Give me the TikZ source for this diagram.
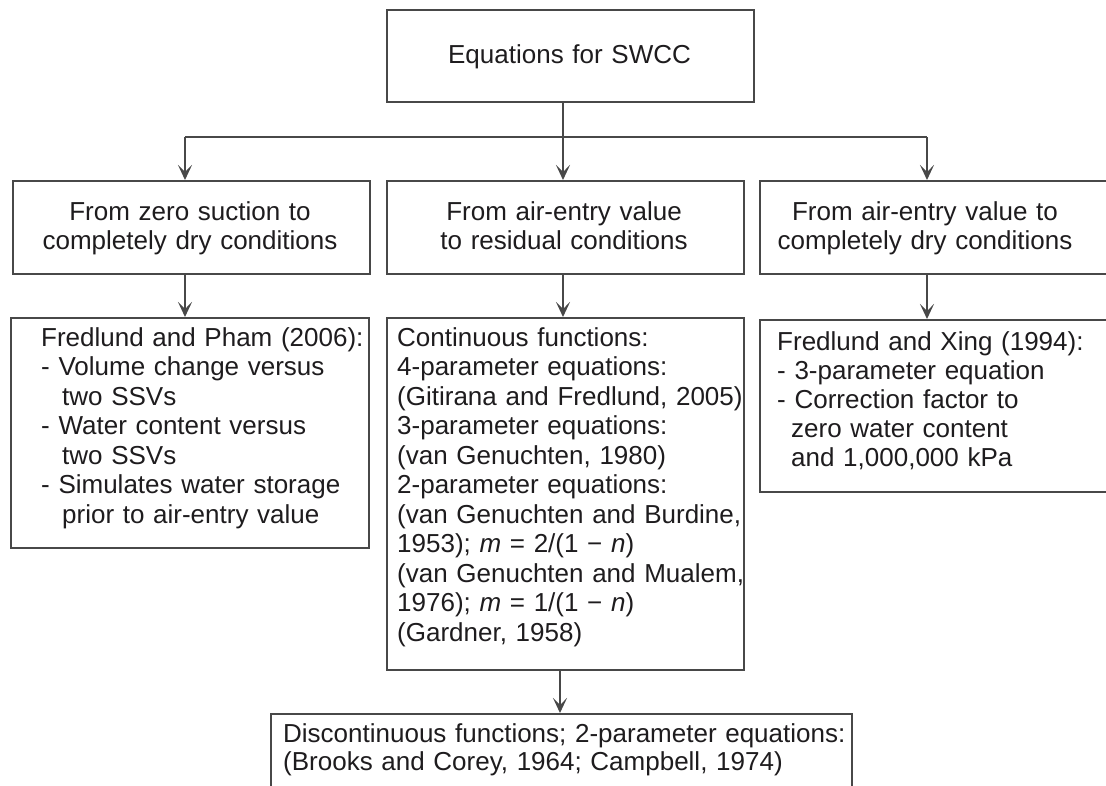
\documentclass[tikz,border=0pt]{standalone}
\usepackage{fontspec}
\setmainfont{Liberation Sans}
\usetikzlibrary{arrows.meta}
\definecolor{linegray}{RGB}{72,72,72}
\definecolor{inkc}{RGB}{30,28,30}
\newcommand\fsA{\fontsize{26}{29.5}\selectfont}
\newcommand\fsB{\fontsize{26}{29}\selectfont}
\newcommand\fsC{\fontsize{26}{28}\selectfont}
\begin{document}
\begin{tikzpicture}[x=1pt,y=-1pt,
  box/.style={draw=linegray, line width=1.5pt, inner sep=0pt, anchor=north west},
  ctext/.style={font=\fsA, text=inkc, inner sep=0pt, align=center, anchor=base},
  ltext/.style={font=\fsA, text=inkc, inner sep=0pt, align=left, anchor=base west},
  conn/.style={draw=linegray, line width=1.5pt},
  arr/.style={conn, -{Stealth[length=15pt,width=14pt,inset=7pt]}}]
\useasboundingbox (0,0) rectangle (1106,785);
\fill[white] (0,0) rectangle (1106,785);
% boxes
\node[box, minimum width=367pt, minimum height=92pt] (top) at (386,9) {};
\node[box, minimum width=357pt, minimum height=93pt] (L1) at (12,180) {};
\node[box, minimum width=357pt, minimum height=93pt] (M1) at (386,180) {};
\node[box, minimum width=350pt, minimum height=93pt] (R1) at (759,180) {};
\node[box, minimum width=358pt, minimum height=230pt] (L2) at (10,317) {};
\node[box, minimum width=357pt, minimum height=352pt] (M2) at (386,317) {};
\node[box, minimum width=350pt, minimum height=172pt] (R2) at (759,319) {};
\node[box, minimum width=581pt, minimum height=85pt] (B) at (270,713) {};
% texts
\node[ctext, text width=360pt] (tTop) at (569.5,63) {Equations for SWCC};
\node[ctext, text width=340pt] (tL1) at (190,220) {From zero suction to\\completely dry conditions};
\node[ctext, text width=340pt] (tM1) at (564,220) {From air-entry value\\to residual conditions};
\node[ctext, text width=330pt] (tR1) at (925,220) {From air-entry value to\\completely dry conditions};
\node[ltext, text width=340pt] (tL2) at (41,346) {Fredlund and Pham (2006):\\- Volume change versus\\\hspace*{21pt}two SSVs\\- Water content versus\\\hspace*{21pt}two SSVs\\- Simulates water storage\\\hspace*{21pt}prior to air-entry value};
\node[ltext, text width=360pt] (tM2) at (397,346) {Continuous functions:\\4-parameter equations:\\(Gitirana and Fredlund, 2005)\\3-parameter equations:\\(van Genuchten, 1980)\\2-parameter equations:\\(van Genuchten and Burdine,\\1953); \textit{m} = 2/(1 − \textit{n})\\(van Genuchten and Mualem,\\1976); \textit{m} = 1/(1 − \textit{n})\\(Gardner, 1958)};
\node[ltext, font=\fsB, text width=320pt] (tR2) at (777,350) {Fredlund and Xing (1994):\\- 3-parameter equation\\- Correction factor to\\\hspace*{14pt}zero water content\\\hspace*{14pt}and 1,000,000 kPa};
\node[ltext, font=\fsC, text width=580pt] (tB) at (283,742) {Discontinuous functions; 2-parameter equations:\\(Brooks and Corey, 1964; Campbell, 1974)};
% connectors
\coordinate (jL) at (185,137);
\coordinate (jM) at (563,137);
\coordinate (jR) at (927,137);
\coordinate (jB) at (560,700);
\draw[conn] (top.south -| jM) -- (jM);
\draw[conn] (jL) -- (jR);
\draw[arr] (jL) -- (jL |- L1.north);
\draw[arr] (jM) -- (jM |- M1.north);
\draw[arr] (jR) -- (jR |- R1.north);
\draw[arr] (L1.south -| jL) -- (L2.north -| jL);
\draw[arr] (M1.south -| jM) -- (M2.north -| jM);
\draw[arr] (R1.south -| jR) -- (R2.north -| jR);
\draw[arr] (M2.south -| jB) -- (B.north -| jB);
\end{tikzpicture}
\end{document}
